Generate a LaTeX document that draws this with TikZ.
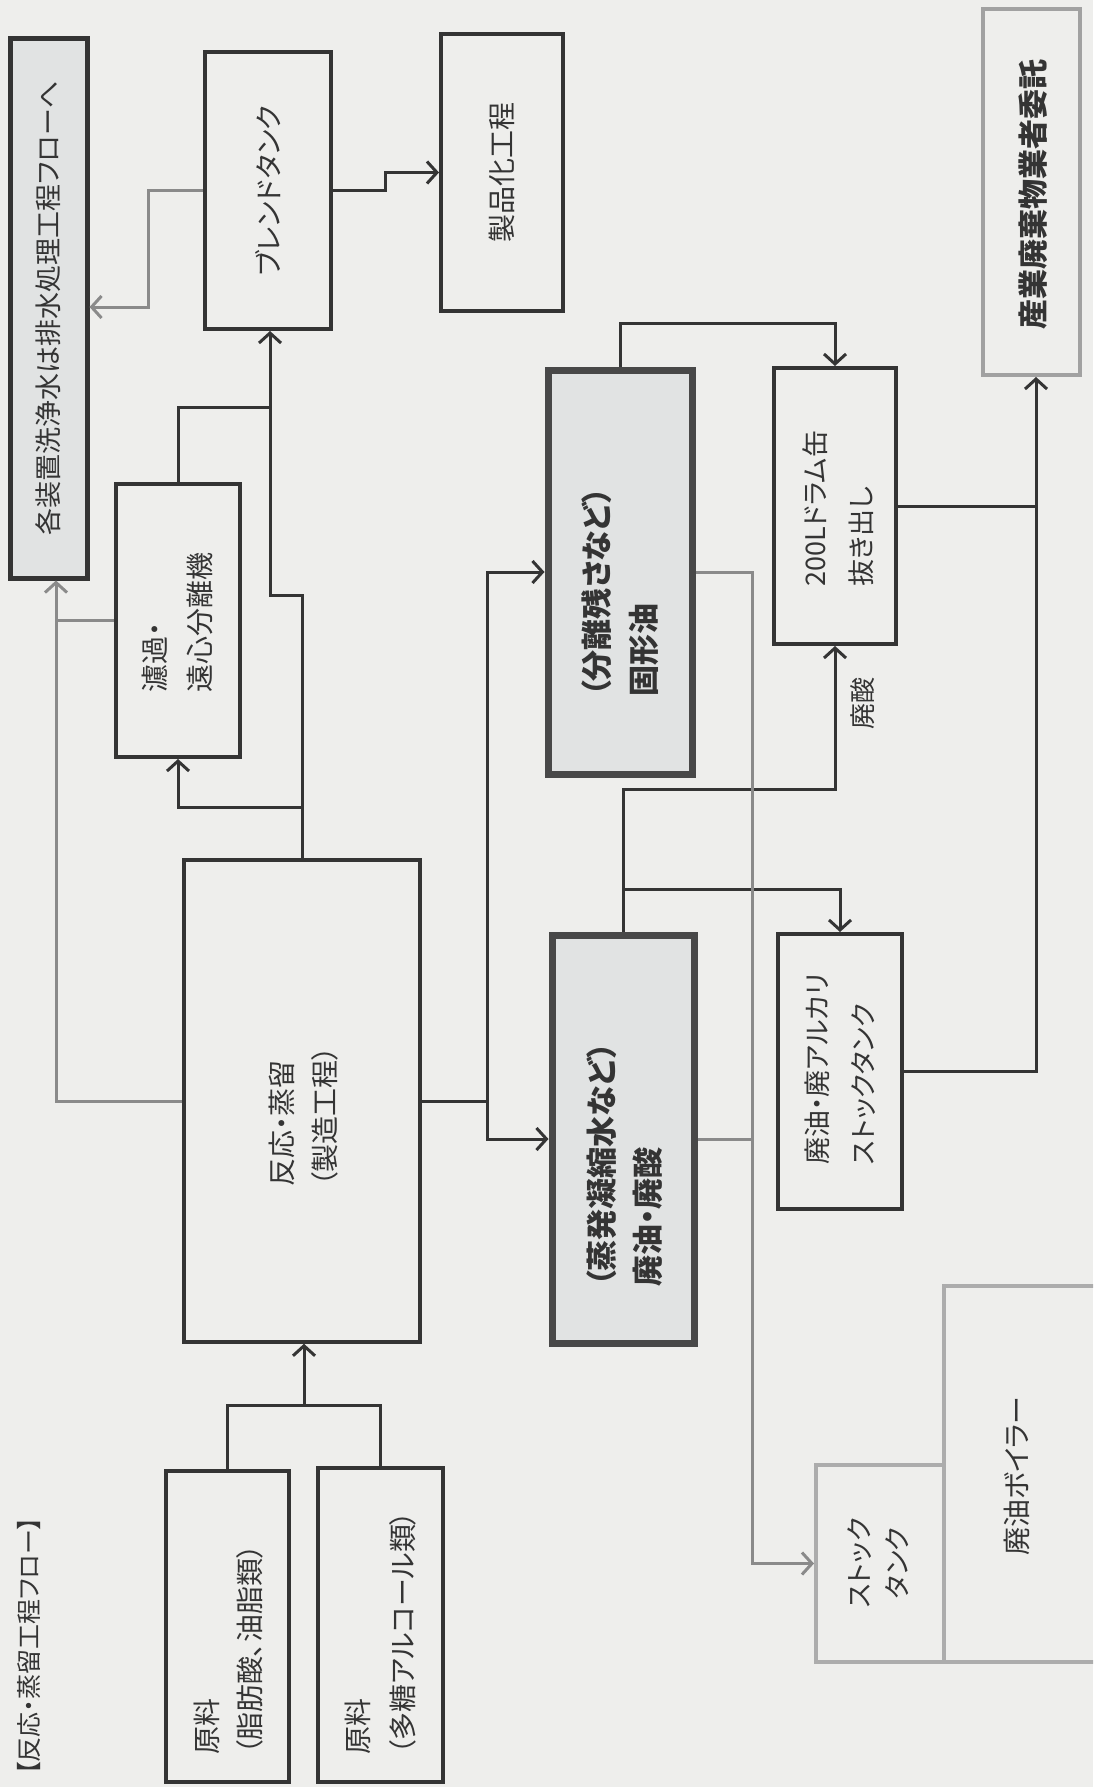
\documentclass[tikz,border=0pt]{standalone}
\usepackage{fontspec}
\setmainfont{Noto Sans CJK JP}[RawFeature=+palt]
\usetikzlibrary{arrows.meta}
\definecolor{paper}{RGB}{238,238,236}
\definecolor{ink}{RGB}{52,52,52}
\definecolor{gline}{RGB}{138,138,138}
\definecolor{lgray}{RGB}{172,172,172}
\definecolor{boxfill}{RGB}{225,227,227}
\begin{document}
\begin{tikzpicture}[x=1pt,y=-1pt,
  box/.style={draw=ink, line width=4pt, rectangle, inner sep=0pt},
  hbox/.style={draw=ink!90, fill=boxfill, line width=7pt, rectangle, inner sep=0pt},
  wbox/.style={draw=ink, fill=boxfill, line width=5pt, rectangle, inner sep=0pt},
  gbox/.style={draw=lgray, line width=4pt, rectangle, inner sep=0pt},
  txt/.style={rotate=90, text=ink, inner sep=0pt, align=left, font=\fontsize{28}{45}\selectfont},
  btxt/.style={rotate=90, text=ink, inner sep=0pt, align=left, font=\bfseries\fontsize{31}{47}\selectfont},
  ln/.style={draw=ink, line width=3pt},
  gl/.style={draw=gline, line width=3pt},
  arr/.style={-{Straight Barb[length=10pt,width=22pt]}}
]
\useasboundingbox (0,0) rectangle (1093,1787);
\clip (0,0) rectangle (1093,1787);
\fill[paper] (0,0) rectangle (1093,1787);

% boxes
\node[wbox, minimum width=77pt, minimum height=539pt] (W) at (48.5,308.5) {};
\node[box, minimum width=126pt, minimum height=277pt] (B) at (268,190.5) {};
\node[box, minimum width=122pt, minimum height=277pt] (P) at (502,172.5) {};
\node[gbox, draw=gline!80, minimum width=97pt, minimum height=366pt] (K) at (1031.5,192) {};
\node[box, minimum width=124pt, minimum height=273pt] (F) at (178,620.5) {};
\node[box, line width=3.5pt, minimum width=236pt, minimum height=482pt] (R) at (302,1101) {};
\node[hbox, minimum width=144pt, minimum height=404pt] (S8) at (620,572) {};
\node[box, minimum width=122pt, minimum height=276pt] (D) at (835,506) {};
\node[hbox, minimum width=142pt, minimum height=408pt] (S10) at (623,1139) {};
\node[box, minimum width=124pt, minimum height=275pt] (T) at (840,1071.5) {};
\node[box, minimum width=123pt, minimum height=311pt] (M1) at (227.5,1626.5) {};
\node[box, minimum width=125pt, minimum height=314pt] (M2) at (380.5,1625) {};
\node[gbox, minimum width=166pt, minimum height=376pt] (BO) at (1027,1474) {};
\node[gbox, minimum width=128pt, minimum height=197pt] (ST) at (880,1563.5) {};

% texts
\node[txt, font=\fontsize{25}{30}\selectfont] (title) at (29,1646) {【反応・蒸留工程フロー】};
\node[txt, font=\fontsize{27}{40}\selectfont] (Wt) at (W.center) {各装置洗浄水は排水処理工程フローへ};
\node[txt] (Bt) at (B.center) {ブレンドタンク};
\node[txt] (Pt) at (P.center) {製品化工程};
\node[btxt, font=\bfseries\fontsize{30}{40}\selectfont] (Kt) at (1033,194) {産業廃棄物業者委託};
\node[txt, anchor=west] (Ft) at (177.5,693) {濾過・\\遠心分離機};
\node[txt, anchor=west, font=\fontsize{28}{43}\selectfont] (Rt) at (303.5,1187) {反応・蒸留\\（製造工程）};
\node[btxt, anchor=west] (S8t) at (620,697) {（分離残さなど）\\固形油};
\node[btxt, anchor=west, font=\bfseries\fontsize{31}{46}\selectfont] (S10t) at (625,1287) {（蒸発凝縮水など）\\廃油・廃酸};
\node[txt, anchor=west, font=\fontsize{27}{46}\selectfont] (Dt) at (838,587) {200Lドラム缶\\抜き出し};
\node[txt, anchor=west, font=\fontsize{27}{46}\selectfont] (Tt) at (840,1165) {廃油・廃アルカリ\\ストックタンク};
\node[txt, anchor=west, font=\fontsize{28}{43}\selectfont] (M1t) at (228.5,1755) {原料\\（脂肪酸、油脂類）};
\node[txt, anchor=west, font=\fontsize{28}{45}\selectfont] (M2t) at (380.5,1755) {原料\\（多糖アルコール類）};
\node[txt, align=center, font=\fontsize{27}{38}\selectfont] (STt) at (878,1563) {ストック\\タンク};
\node[txt] (BOt) at (1017,1476) {廃油ボイラー};
\node[txt, font=\fontsize{26}{30}\selectfont] (acid) at (863,703) {廃酸};

% helper coordinates
\coordinate (j1) at (304,1405);
\coordinate (g1) at (56,900);
\coordinate (a2) at (302,595);
\coordinate (a3) at (270,595);
\coordinate (a1) at (302,807);
\coordinate (a4) at (270,407);
\coordinate (b1) at (148,307);
\coordinate (b2) at (385,180);
\coordinate (r1) at (487,1101);
\coordinate (s1) at (700,323);
\coordinate (s2) at (700,889);
\coordinate (s3) at (700,789);
\coordinate (g3) at (752,900);
\coordinate (k1) at (1036,800);

% connectors
\draw[ln] (M1.north) |- (j1) -| (M2.north);
\draw[ln,arr] (j1) -- (j1 |- R.south);

\draw[gl,arr] (R.west) -| (g1 |- W.south);
\draw[gl] (F.west) -- (F.west -| g1);

\draw[ln,arr] (R.north) -- (a2) -- (a3) -- (a3 |- B.south);
\draw[ln,arr] (a1) -| (F.south);
\draw[ln] (F.north) |- (a4);

\draw[gl,arr] (B.west) -| (b1) -- (b1 -| W.east);
\draw[ln,arr] (B.east) -| (b2) |- (P.west);

\draw[ln,arr] (R.east) -| (r1 |- S8.west) -- (S8.west);
\draw[ln,arr] (R.east) -| (r1 |- S10.west) -- (S10.west);

\draw[ln,arr] (S8.north) |- (s1) -| (D.north);
\draw[ln,arr] (S10.north) |- (s2) -| (T.north);
\draw[ln,arr] (S10.north) |- (s3) -| (D.south);

\draw[gl,arr] (S8.east) -| (g3 |- ST.west) -- (ST.west);
\draw[gl] (S10.east) -- (S10.east -| g3);

\draw[ln,arr] (T.east) -| (k1 |- K.south);
\draw[ln] (D.east) -- (D.east -| k1);
\end{tikzpicture}
\end{document}
